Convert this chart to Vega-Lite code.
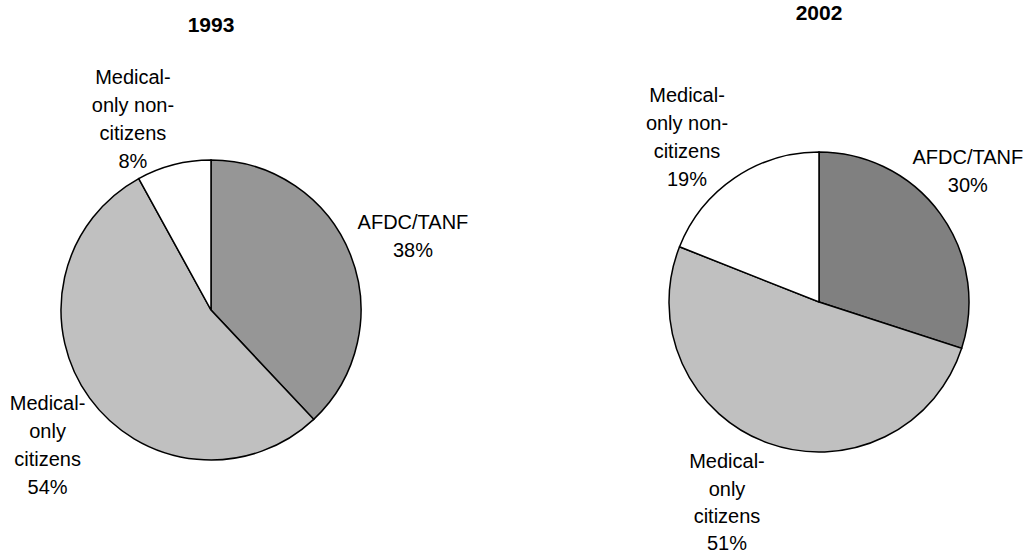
{
  "$schema": "https://vega.github.io/schema/vega-lite/v6.json",
  "background": "white",
  "padding": {"left": 0, "top": 3, "right": 0, "bottom": 0},
  "config": {
    "view": {"stroke": null},
    "font": "Liberation Sans",
    "title": {"font": "Liberation Sans", "fontSize": 21, "fontWeight": "bold", "color": "black", "frame": "group", "baseline": "alphabetic", "anchor": "middle"}
  },
  "datasets": {
    "pies": [
      {"year": "1993", "cat": "AFDC/TANF", "value": 38, "o": 1, "label": "AFDC/TANF\n38%"},
      {"year": "1993", "cat": "Medical-only citizens", "value": 54, "o": 2, "label": "Medical-\nonly\ncitizens\n54%"},
      {"year": "1993", "cat": "Medical-only non-citizens", "value": 8, "o": 3, "label": "Medical-\nonly non-\ncitizens\n8%"},
      {"year": "2002", "cat": "AFDC/TANF", "value": 30, "o": 1, "label": "AFDC/TANF\n30%"},
      {"year": "2002", "cat": "Medical-only citizens", "value": 51, "o": 2, "label": "Medical-\nonly\ncitizens\n51%"},
      {"year": "2002", "cat": "Medical-only non-citizens", "value": 19, "o": 3, "label": "Medical-\nonly non-\ncitizens\n19%"}
    ]
  },
  "data": {"name": "pies"},
  "bounds": "flush",
  "spacing": 197,
  "resolve": {"scale": {"color": "independent", "theta": "independent"}},
  "hconcat": [
    {
      "title": {"text": "1993", "offset": 31.5},
      "width": 422,
      "height": 420,
      "transform": [{"filter": "datum.year === '1993'"}],
      "encoding": {
        "theta": {"field": "value", "type": "quantitative", "stack": true},
        "order": {"field": "o", "type": "quantitative", "sort": "ascending"}
      },
      "layer": [
        {
          "mark": {"type": "arc", "outerRadius": 150, "stroke": "black", "strokeWidth": 1.5},
          "encoding": {
            "color": {"field": "cat", "type": "nominal", "legend": null,
              "scale": {"domain": ["AFDC/TANF", "Medical-only citizens", "Medical-only non-citizens"], "range": ["#969696", "#c0c0c0", "#ffffff"]}}
          }
        },
        {
          "mark": {"type": "text", "radius": 220, "thetaOffset": -0.031, "fontSize": 20, "lineBreak": "\n", "lineHeight": 28, "align": "center", "baseline": "middle", "color": "black"},
          "encoding": {"text": {"condition": {"test": "datum.cat === 'AFDC/TANF'", "field": "label"}, "value": ""}}
        },
        {
          "mark": {"type": "text", "radius": 188.6, "thetaOffset": 0.106, "fontSize": 20, "lineBreak": "\n", "lineHeight": 28, "align": "center", "baseline": "middle", "color": "black"},
          "encoding": {"text": {"condition": {"test": "datum.cat === 'Medical-only citizens'", "field": "label"}, "value": ""}}
        },
        {
          "mark": {"type": "text", "radius": 245, "thetaOffset": -0.073, "fontSize": 20, "lineBreak": "\n", "lineHeight": 28, "align": "center", "baseline": "middle", "color": "black"},
          "encoding": {"text": {"condition": {"test": "datum.cat === 'Medical-only non-citizens'", "field": "label"}, "value": ""}}
        }
      ]
    },
    {
      "title": {"text": "2002", "offset": 61.5},
      "width": 400,
      "height": 404,
      "transform": [{"filter": "datum.year === '2002'"}],
      "encoding": {
        "theta": {"field": "value", "type": "quantitative", "stack": true},
        "order": {"field": "o", "type": "quantitative", "sort": "ascending"}
      },
      "layer": [
        {
          "mark": {"type": "arc", "outerRadius": 150, "stroke": "black", "strokeWidth": 1.5},
          "encoding": {
            "color": {"field": "cat", "type": "nominal", "legend": null,
              "scale": {"domain": ["AFDC/TANF", "Medical-only citizens", "Medical-only non-citizens"], "range": ["#808080", "#c0c0c0", "#ffffff"]}}
          }
        },
        {
          "mark": {"type": "text", "radius": 207, "thetaOffset": -0.14, "fontSize": 20, "lineBreak": "\n", "lineHeight": 28, "align": "center", "baseline": "middle", "color": "black"},
          "encoding": {"text": {"condition": {"test": "datum.cat === 'AFDC/TANF'", "field": "label"}, "value": ""}}
        },
        {
          "mark": {"type": "text", "radius": 185, "thetaOffset": 0.175, "fontSize": 20, "lineBreak": "\n", "lineHeight": 27.3, "align": "center", "baseline": "middle", "color": "black"},
          "encoding": {"text": {"condition": {"test": "datum.cat === 'Medical-only citizens'", "field": "label"}, "value": ""}}
        },
        {
          "mark": {"type": "text", "radius": 245, "thetaOffset": 0.028, "fontSize": 20, "lineBreak": "\n", "lineHeight": 28, "align": "center", "baseline": "middle", "color": "black"},
          "encoding": {"text": {"condition": {"test": "datum.cat === 'Medical-only non-citizens'", "field": "label"}, "value": ""}}
        }
      ]
    }
  ]
}
